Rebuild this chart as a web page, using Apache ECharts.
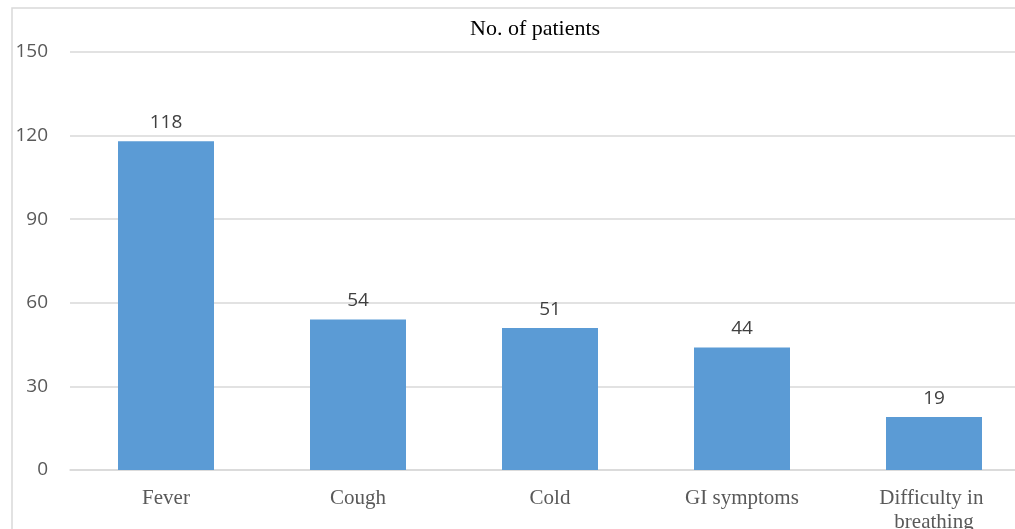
<!DOCTYPE html>
<html>
  <head>
    <meta charset="utf-8">
    <title></title>
    <style>
    html, body {margin:0; padding:0; background:#fff}
    #chart {width:1015px; height:529px}
    </style>
    <script src="https://cdn.jsdelivr.net/npm/echarts@6/dist/echarts.min.js"></script>
  </head>
  <body>
    <div id="chart"></div>
    <script>
    const categories=['Fever', 'Cough', 'Cold', 'GI symptoms', 'Difficulty in breathing'];
    const patients=[118, 54, 51, 44, 19];
    const yTicks=[0, 30, 60, 90, 120, 150];

    let chart=echarts.init(document.getElementById('chart'));

    let option={
      animation: false,
      title: {
        text: 'No. of patients',
        left: 465,
        top: 13,
        textStyle: {fontFamily: 'Liberation Serif', fontSize: 22, fontWeight: 'normal', color: '#000'}
      },
      graphic: [
        {
          type: 'rect',
          shape: {x: 12, y: 8, width: 1100, height: 600},
          style: {fill: 'none', stroke: '#d9d9d9', lineWidth: 1.5},
          silent: true
        }
      ],
      grid: {left: 70, top: 52, width: 960, height: 418, outerBoundsMode: 'none'},
      xAxis: {
        type: 'category',
        data: categories,
        axisLine: {lineStyle: {color: '#d9d9d9', width: 1.5}},
        axisTick: {show: false},
        axisLabel: {
          interval: 0,
          fontFamily: 'Liberation Serif', fontSize: 21, color: '#595959',
          margin: 16, width: 125, overflow: 'break', lineHeight: 24
        }
      },
      yAxis: {
        type: 'value',
        min: yTicks[0],
        max: yTicks[yTicks.length-1],
        interval: 30,
        axisLine: {show: false},
        axisTick: {show: false},
        splitLine: {lineStyle: {color: '#d9d9d9', width: 1.5}},
        axisLabel: {fontFamily: 'Open Sans', fontSize: 19, color: '#595959', margin: 22}
      },
      series: [
        {
          type: 'bar',
          data: patients,
          barWidth: '50%',
          itemStyle: {color: '#5b9bd5'},
          label: {
            show: true, position: 'top', distance: 9,
            fontFamily: 'Open Sans', fontSize: 19, color: '#404040'
          }
        }
      ]
    };

    chart.setOption(option);
    </script>
  </body>
</html>
